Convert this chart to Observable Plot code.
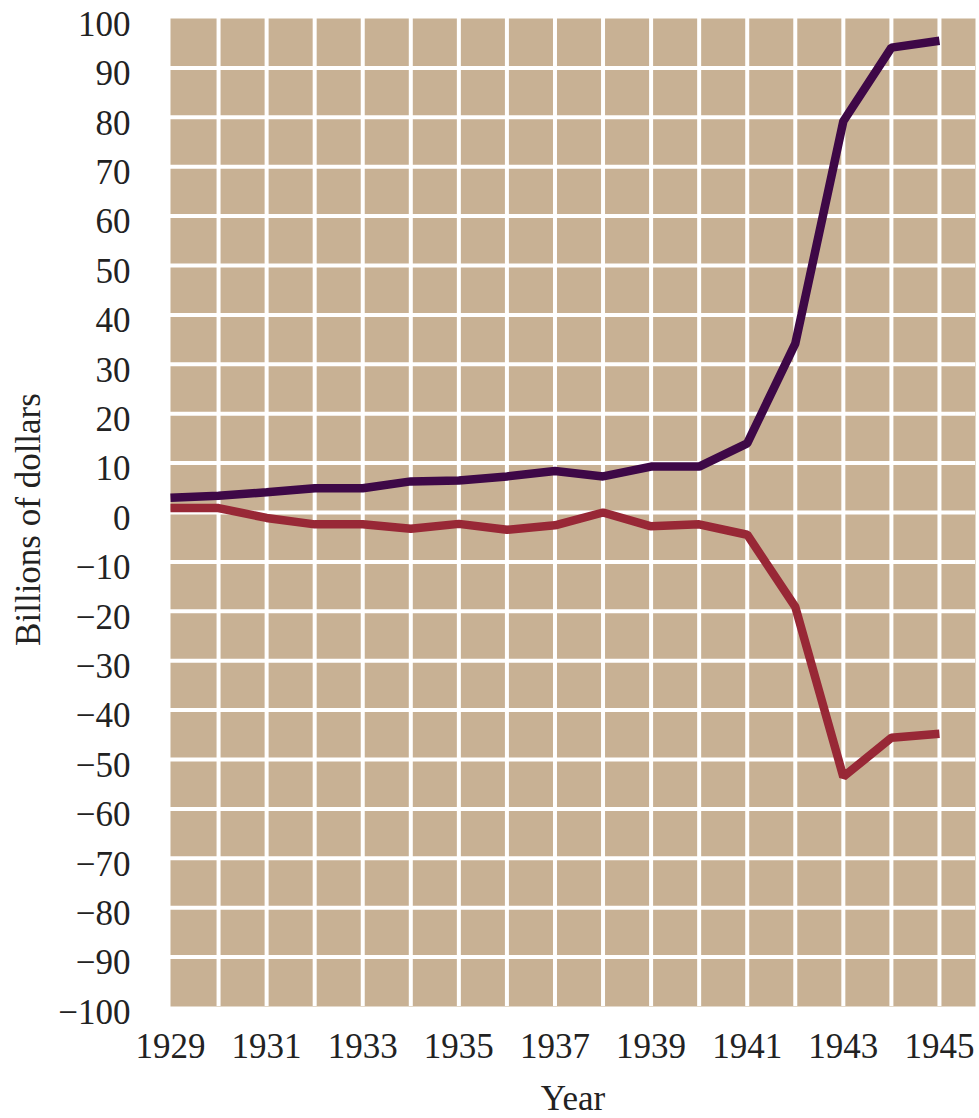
<!DOCTYPE html>
<html>
<head>
<meta charset="utf-8">
<script src="https://cdn.jsdelivr.net/npm/d3@7"></script>
<script src="https://cdn.jsdelivr.net/npm/@observablehq/plot@0.6"></script>
<style>
  html, body { margin: 0; padding: 0; background: #ffffff; }
  #chart svg, #chart svg text { font-family: "Liberation Serif", "DejaVu Serif", serif !important; }
</style>
</head>
<body>
<div id="chart"></div>
<script>
const years = [1929, 1930, 1931, 1932, 1933, 1934, 1935, 1936, 1937, 1938, 1939, 1940, 1941, 1942, 1943, 1944, 1945];
const purpleSeries = [3.0, 3.4, 4.1, 4.9, 4.9, 6.3, 6.5, 7.3, 8.4, 7.3, 9.3, 9.3, 14.0, 34.2, 79.2, 94.1, 95.5];
const redSeries = [0.9, 0.9, -1.1, -2.4, -2.4, -3.3, -2.3, -3.5, -2.6, 0.0, -2.8, -2.4, -4.5, -19.1, -53.5, -45.6, -44.8];
const xTickLabels = [1929, 1931, 1933, 1935, 1937, 1939, 1941, 1943, 1945];
const yTickLabels = [100, 90, 80, 70, 60, 50, 40, 30, 20, 10, 0, -10, -20, -30, -40, -50, -60, -70, -80, -90, -100];
const xTitle = "Year";
const yTitle = "Billions of dollars";

const purpleData = years.map((y, i) => ({year: y, value: purpleSeries[i]}));
const redData = years.map((y, i) => ({year: y, value: redSeries[i]}));

const fmt = d => d < 0 ? "\u2212" + Math.abs(d) : String(d);
const serif = "Liberation Serif";

const chart = Plot.plot({
  width: 979,
  height: 1118,
  marginLeft: 170,
  marginRight: 4,
  marginTop: 18,
  marginBottom: 112,
  style: {fontFamily: "'Liberation Serif', serif", fontSize: "35px", background: "#ffffff", color: "#222"},
  x: {domain: [1929, 1945.75]},
  y: {domain: [-100, 100]},
  marks: [
    Plot.frame({fill: "#c8b194", stroke: null}),
    Plot.gridX(d3.range(1930, 1946), {stroke: "#ffffff", strokeOpacity: 1, strokeWidth: 4}),
    Plot.gridY(d3.range(-90, 100, 10), {stroke: "#ffffff", strokeOpacity: 1, strokeWidth: 4}),
    Plot.axisX(xTickLabels, {tickSize: 0, tickPadding: 27, tickFormat: d => String(d), fontSize: 35, fontFamily: serif, label: null, fill: "#222"}),
    Plot.axisY(yTickLabels, {tickSize: 0, tickPadding: 40, tickFormat: fmt, fontSize: 35, fontFamily: serif, label: null, dy: 6, fill: "#222"}),
    Plot.line(redData, {x: "year", y: "value", stroke: "#982836", strokeWidth: 8.5, strokeLinejoin: "miter", strokeLinecap: "butt"}),
    Plot.line(purpleData, {x: "year", y: "value", stroke: "#3e0847", strokeWidth: 8.5, strokeLinejoin: "miter", strokeLinecap: "butt"}),
    Plot.text([xTitle], {frameAnchor: "bottom", dy: 92, lineAnchor: "middle", textAnchor: "middle", fontSize: 35, fontFamily: serif, fill: "#222"}),
    Plot.text([yTitle], {frameAnchor: "left", dx: -142, dy: 7, rotate: -90, lineAnchor: "middle", textAnchor: "middle", fontSize: 35, fontFamily: serif, fill: "#222"})
  ]
});
document.getElementById("chart").appendChild(chart);
</script>
</body>
</html>
